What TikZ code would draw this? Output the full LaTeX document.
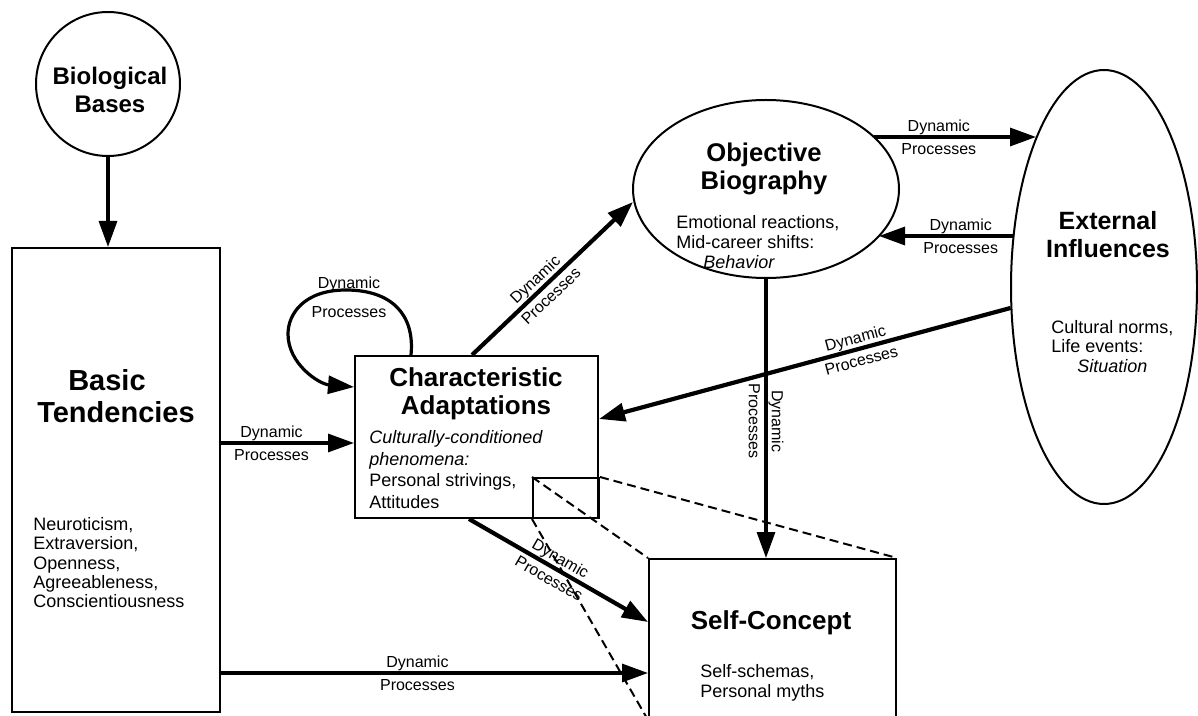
\documentclass[tikz,border=0pt]{standalone}
\usepackage{fontspec}
\setmainfont{Liberation Sans}
\usetikzlibrary{arrows.meta,shapes.geometric,calc}
\begin{document}
\begin{tikzpicture}[x=0.5pt,y=-0.5pt,
  box/.style={draw, line width=1pt, inner sep=0pt},
  arr/.style={line width=1.6pt, -{Triangle[length=13pt,width=9pt]}},
  thickarr/.style={arr, line width=2.1pt},
  dp/.style={font=\fontsize{8}{11.5}\selectfont, align=center, inner sep=0pt},
  ttl/.style={align=center, inner sep=0pt},
  subtxt/.style={align=left, inner sep=0pt, anchor=north west},
  dsh/.style={dash pattern=on 4.5pt off 2.5pt, line width=1pt}]
\useasboundingbox (0,0) rectangle (1198,716);
\fill[white] (0,0) rectangle (1198,716);
\clip (0,0) rectangle (1198,716);

% nodes
\node[box, circle, minimum size=72pt] (bio) at (108,84) {};
\node[ttl, font=\fontsize{12}{14}\bfseries\selectfont] (bioT) at (110,90) {Biological\\Bases};

\node[box, minimum width=104pt, minimum height=232pt] (basic) at (116,480) {};
\node[ttl, font=\fontsize{14.5}{16}\bfseries\selectfont] (basicT) at (116,396) {Basic\hspace*{9pt}\\Tendencies};
\node[subtxt, font=\fontsize{9}{9.65}\selectfont] (basicL) at (33,517)
  {Neuroticism,\\Extraversion,\\Openness,\\Agreeableness,\\Conscientiousness};

\node[box, minimum width=121.5pt, minimum height=81pt] (char) at (476.5,437) {};
\node[ttl, font=\fontsize{13}{14}\bfseries\selectfont] (charT) at (476,394) {Characteristic\\Adaptations};
\node[subtxt, font=\fontsize{9}{10.8}\selectfont] (charL) at (369,430)
  {\textit{Culturally-conditioned}\\\textit{phenomena:}\\Personal strivings,\\Attitudes};
\node[draw, line width=1pt, inner sep=0pt, minimum width=33pt, minimum height=20pt, anchor=north west] (zr) at (532,477) {};

\node[box, ellipse, minimum width=133pt, minimum height=89pt] (obj) at (766,189) {};
\node[ttl, font=\fontsize{12.8}{14}\bfseries\selectfont] (objT) at (764,169) {Objective\\Biography};
\node[subtxt, font=\fontsize{9}{10}\selectfont] (objL) at (676,215)
  {Emotional reactions,\\Mid-career shifts:\\\hspace*{13.5pt}\textit{Behavior}};

\node[box, ellipse, minimum width=93pt, minimum height=217pt] (ext) at (1104,287) {};
\node[ttl, font=\fontsize{12.5}{14}\bfseries\selectfont] (extT) at (1108,235) {External\\Influences};
\node[subtxt, font=\fontsize{9}{9.75}\selectfont] (extL) at (1051,320)
  {Cultural norms,\\Life events:\\\hspace*{13pt}\textit{Situation}};

\node[box, minimum width=123.5pt, minimum height=80pt, anchor=north west] (self) at (648,558) {};
\node[ttl, font=\fontsize{13}{14}\bfseries\selectfont] (selfT) at (771,623) {Self-Concept};
\node[subtxt, font=\fontsize{9}{10}\selectfont] (selfL) at (700,664)
  {Self-schemas,\\Personal myths};

% dashed zoom lines
\draw[dsh] (zr.north west) -- (self.north west);
\draw[dsh] (zr.north east) -- (self.north east);
\draw[dsh] (zr.south west) -- (self.south west);

% connectors
\draw[arr] (bio.south) -- (bio.south |- basic.north);

\draw[arr] (basic.east |- 0,443) -- node[dp, pos=0.38] (l1) {Dynamic\\Processes} (char.west |- 0,443);

\draw[arr] (basic.east |- 0,673) -- node[dp, pos=0.46] (l2) {Dynamic\\Processes} (self.west |- 0,673);

\draw[thickarr] ($(char.north west)+(118,0)$) -- node[dp, sloped, pos=0.44] (l3) {Dynamic\\Processes} ($(obj.center)+(-133,13)$);

\draw[thickarr] ($(char.south west)+(115,0)$) -- node[dp, sloped, pos=0.48] (l4) {Dynamic\\Processes} ($(self.north west)+(0,64)$);

\draw[arr] ($(obj.center)+(108,-52)$) -- node[dp, pos=0.4] (l5) {Dynamic\\Processes} ($(ext.center)+(-68,-150)$);

\draw[arr] ($(ext.center)+(-91,-51)$) -- node[dp, pos=0.39] (l6) {Dynamic\\Processes} ($(obj.center)+(113,47)$);

\draw[thickarr] ($(ext.center)+(-93.5,21)$) -- node[dp, sloped, pos=0.37] (l7) {Dynamic\\Processes} ($(char.north east)+(0,64)$);

\draw[arr] (obj.south) -- node[dp, rotate=-90, pos=0.51] (l8) {Dynamic\\Processes} (obj.south |- self.north);

\draw[arr] ($(char.north west)+(57,0)$)
  .. controls ($(char.north west)+(61,-41)$) and ($(char.north west)+(37,-65)$) .. ($(char.north west)+(-8,-65)$)
  .. controls ($(char.north west)+(-50,-65)$) and ($(char.north west)+(-66,-41)$) .. ($(char.north west)+(-66,-21)$)
  .. controls ($(char.north west)+(-66,9)$) and ($(char.north west)+(-35,29)$) .. ($(char.north west)+(0,32)$);
\node[dp, font=\fontsize{8}{14.5}\selectfont] (l9) at (349,297) {Dynamic\\Processes};
\end{tikzpicture}
\end{document}
